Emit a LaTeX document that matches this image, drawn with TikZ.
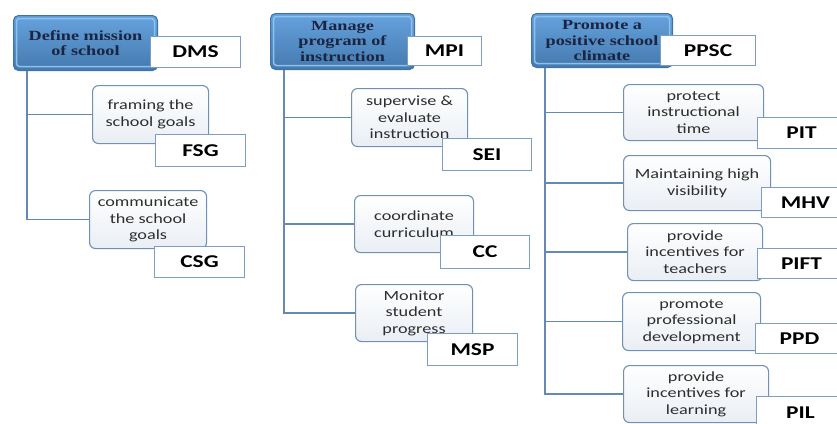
\documentclass[tikz,border=0pt]{standalone}
\usepackage{fontspec}
\usepackage{xcolor}
\usepackage{tikz}
\newfontfamily\bodyfont[FakeStretch=1.3]{Carlito}
\newfontfamily\headfont[FakeStretch=1.3]{Liberation Serif}
\definecolor{headblue}{HTML}{5598DA}
\definecolor{headrim}{HTML}{8EC1EE}
\definecolor{linkblue}{HTML}{6588B4}
\definecolor{boxedge}{HTML}{7190B6}
\definecolor{tagedge}{HTML}{7E9DC4}
\definecolor{headtext}{HTML}{1B2440}

\begin{document}
\begin{tikzpicture}[x=1pt,y=-1pt,
        every node/.style={anchor=north west, inner sep=2pt},
        head/.style={draw=headblue!75!black, line width=1pt, rounded corners=5pt,
            top color=headblue!90!white, middle color=headblue, bottom color=headblue!80!black,
            align=center, text=headtext, font=\headfont\bfseries\fontsize{14}{15.5}\selectfont,
            path picture={\draw[headrim, line width=1.5pt, rounded corners=3pt]
                ([shift={(3pt,-3pt)}]path picture bounding box.north west) rectangle
                ([shift={(-3pt,4pt)}]path picture bounding box.south east);}},
        item/.style={draw=boxedge, line width=1.1pt, rounded corners=6pt, top color=white,
            bottom color=boxedge!15, align=center, text=black!82,
            font=\bodyfont\fontsize{14}{16.5}\selectfont},
        tag/.style={draw=tagedge, line width=1pt, fill=white, minimum width=90pt,
            minimum height=31pt, text=black, font=\bodyfont\bfseries\fontsize{18}{20}\selectfont},
        link/.style={draw=linkblue, line width=1.5pt}]

        \clip (0,0) rectangle (837,423);

        \node[head, minimum width=144pt, minimum height=55pt] (dms-h) at (13,15) {Define mission\\of school};
        \node[tag] (dms) at (150,36) {DMS};
        \node[item, minimum width=116pt, minimum height=58pt] (fsg-t) at (92,85) {framing the\\school goals};
        \node[tag, minimum height=32pt] (fsg) at (155,134) {FSG};
        \node[item, minimum width=117pt, minimum height=58pt] (csg-t) at (89,190) {communicate\\the school\\goals};
        \node[tag] (csg) at (154,246) {CSG};

        \node[head, minimum width=144pt, minimum height=56pt] (mpi-h) at (270,13) {Manage\\program of\\instruction};
        \node[tag, minimum width=74pt, minimum height=29pt] (mpi) at (407,36) {MPI};
        \node[item, minimum width=116pt, minimum height=58pt] (sei-t) at (351,88) {supervise \&\\evaluate\\instruction};
        \node[tag, minimum width=89pt, minimum height=32pt] (sei) at (442,138) {SEI};
        \node[item, minimum width=119pt, minimum height=57pt] (cc-t) at (354,195) {coordinate\\curriculum};
        \node[tag, minimum width=89pt, minimum height=33pt] (cc) at (440,235) {CC};
        \node[item, minimum width=117pt, minimum height=57pt] (msp-t) at (355,284) {Monitor\\student\\progress};
        \node[tag, minimum height=32pt] (msp) at (427,333) {MSP};

        \node[head, minimum width=141pt, minimum height=54pt] (ppsc-h) at (531,13) {Promote a\\positive school\\climate};
        \node[tag, minimum width=95pt, minimum height=30pt] (ppsc) at (660,35) {PPSC};
        \node[item, minimum width=140pt, minimum height=56pt] (pit-t) at (623,84) {protect\\instructional\\time};
        \node[tag, minimum width=88pt] (pit) at (757,117) {PIT};
        \node[item, minimum width=147pt, minimum height=55pt] (mhv-t) at (623,155) {Maintaining high\\visibility};
        \node[tag, minimum width=88pt, minimum height=30pt] (mhv) at (761,187) {MHV};
        \node[item, minimum width=135pt, minimum height=57pt] (pift-t) at (627,223) {provide\\incentives for\\teachers};
        \node[tag, minimum width=88pt, minimum height=30pt] (pift) at (757,248) {PIFT};
        \node[item, minimum width=138pt, minimum height=58pt] (ppd-t) at (622,292) {promote\\professional\\development};
        \node[tag, minimum width=88pt, minimum height=30pt] (ppd) at (755,323) {PPD};
        \node[item, minimum width=145pt, minimum height=57pt] (pil-t) at (623,365) {provide\\incentives for\\learning};
        \node[tag, minimum width=88pt, minimum height=33pt] (pil) at (756,396) {PIL};

        \draw[link] ([xshift=14pt]dms-h.south west) |- (fsg-t.west);
        \draw[link] ([xshift=14pt]dms-h.south west) |- (csg-t.west);

        \draw[link] ([xshift=14pt]mpi-h.south west) |- (sei-t.west);
        \draw[link] ([xshift=14pt]mpi-h.south west) |- (cc-t.west);
        \draw[link] ([xshift=14pt]mpi-h.south west) |- (msp-t.west);

        \draw[link] ([xshift=14pt]ppsc-h.south west) |- (pit-t.west);
        \draw[link] ([xshift=14pt]ppsc-h.south west) |- (mhv-t.west);
        \draw[link] ([xshift=14pt]ppsc-h.south west) |- (pift-t.west);
        \draw[link] ([xshift=14pt]ppsc-h.south west) |- (ppd-t.west);
        \draw[link] ([xshift=14pt]ppsc-h.south west) |- (pil-t.west);
    \end{tikzpicture}
\end{document}
